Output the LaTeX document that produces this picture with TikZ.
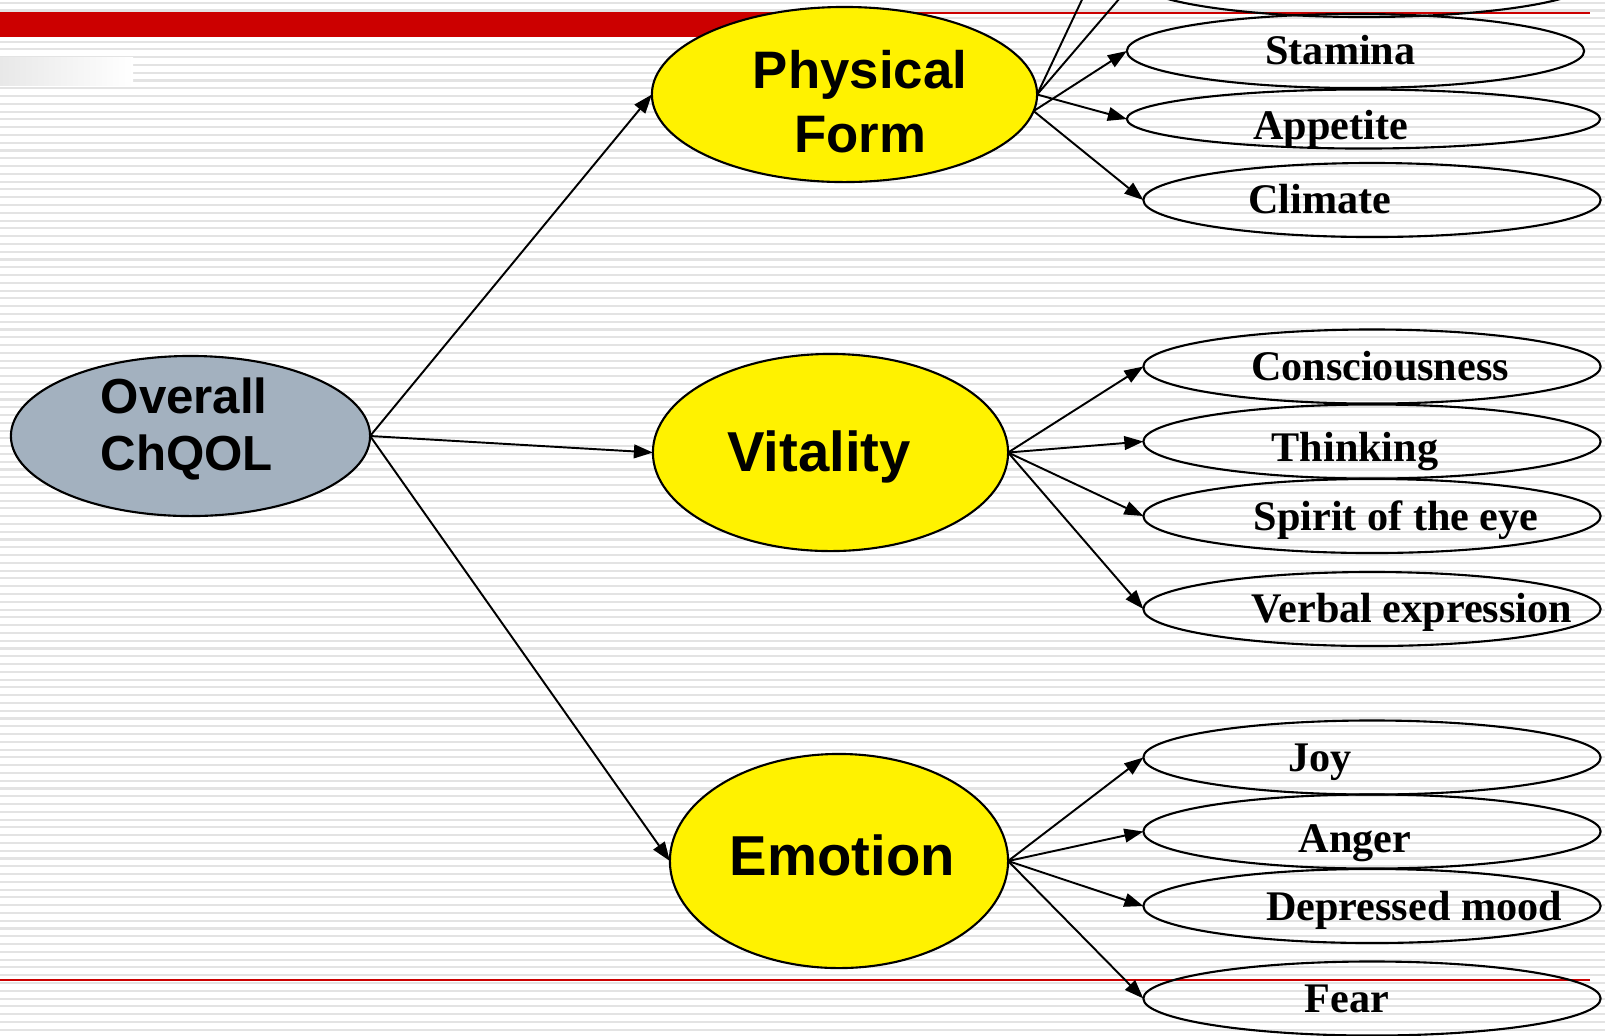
\documentclass[tikz,border=0pt]{standalone}
\usepackage{fontspec}
\setmainfont{Liberation Serif}
\setsansfont{Liberation Sans}
\usetikzlibrary{shapes.geometric,arrows.meta}
\definecolor{slidered}{RGB}{204,0,0}
\definecolor{chqolgray}{RGB}{163,177,191}

\begin{document}
\begin{tikzpicture}[x=0.01cm, y=-0.01cm,
  stripe/.style={gray!22, line width=0.6pt},
  main/.style={ellipse, draw, line width=0.6pt, inner sep=0pt, outer sep=0pt},
  sub/.style={ellipse, draw, line width=0.6pt, inner sep=0pt, outer sep=0pt, minimum width=4.57cm, minimum height=0.74cm},
  bigtxt/.style={font=\sffamily\bfseries\fontsize{16}{18}\selectfont, inner sep=0pt, anchor=base},
  subtxt/.style={font=\bfseries\fontsize{12}{14}\selectfont, inner sep=0pt, anchor=base},
  link/.style={-{Triangle[length=5.4pt,width=3.9pt]}, line width=0.55pt}]
\useasboundingbox (0,0) rectangle (1605,1035);
\clip (0,0) rectangle (1605,1035);
% slide background
\fill[white] (0,0) rectangle (1605,1035);
\foreach \k in {0,...,132}
  \draw[stripe] (0,{2.7+7.78*\k}) -- (1605,{2.7+7.78*\k});
\draw[slidered, line width=0.4pt] (0,13) -- (1590,13);
\fill[slidered] (0,12.3) rectangle (770,36.7);
\draw[slidered, line width=0.4pt] (0,980) -- (1590,980);
\shade[left color=gray!18, right color=white] (0,57) rectangle (133,85);

% main ellipses
\node[main, fill=chqolgray, minimum width=3.59cm, minimum height=1.6cm] (overall) at (190.5,436) {};
\node[main, fill=yellow, minimum width=3.85cm, minimum height=1.75cm] (physical) at (844.5,94.5) {};
\node[main, fill=yellow, minimum width=3.55cm, minimum height=1.97cm] (vitality) at (830.5,452.5) {};
\node[main, fill=yellow, minimum width=3.38cm, minimum height=2.14cm] (emotion) at (839,861) {};

\node[bigtxt, anchor=base west, align=left, font=\sffamily\bfseries\fontsize{14}{16.2}\selectfont] (overall-t) at ([shift={(-90.5,34)}]overall.center) {Overall\\ChQOL};
\node[bigtxt, align=center, font=\sffamily\bfseries\fontsize{15}{18.2}\selectfont] (physical-t) at ([shift={(15.5,57.5)}]physical.center) {Physical\\Form};
\node[bigtxt] (vitality-t) at ([shift={(-11.5,19)}]vitality.center) {Vitality};
\node[bigtxt] (emotion-t) at ([shift={(3.5,14)}]emotion.center) {Emotion};

% sub ellipses
\node[sub] (hiddenA) at (1355,-94) {};
\node[sub] (hiddenB) at (1364,-20) {};
\node[sub] (stamina) at (1355.5,51) {};
\node[sub, minimum width=4.73cm, minimum height=0.59cm] (appetite) at (1363.5,119) {};
\node[sub] (climate) at (1372,200) {};
\node[sub] (conscious) at (1372,366.5) {};
\node[sub] (thinking) at (1372,441.5) {};
\node[sub] (spirit) at (1372,516) {};
\node[sub] (verbal) at (1372,609) {};
\node[sub] (joy) at (1372,757.5) {};
\node[sub] (anger) at (1372,831.5) {};
\node[sub] (depressed) at (1372,906) {};
\node[sub] (fear) at (1372,998.5) {};

\node[subtxt] (stamina-t) at ([shift={(-15,13)}]stamina.center) {Stamina};
\node[subtxt] (appetite-t) at ([shift={(-33,20)}]appetite.center) {Appetite};
\node[subtxt] (climate-t) at ([shift={(-52,13)}]climate.center) {Climate};
\node[subtxt] (conscious-t) at ([shift={(8,14)}]conscious.center) {Consciousness};
\node[subtxt] (thinking-t) at ([shift={(-17,19.5)}]thinking.center) {Thinking};
\node[subtxt] (spirit-t) at ([shift={(24,14.5)}]spirit.center) {Spirit of the eye};
\node[subtxt] (verbal-t) at ([shift={(40,13.5)}]verbal.center) {Verbal expression};
\node[subtxt] (joy-t) at ([shift={(-52,14)}]joy.center) {Joy};
\node[subtxt] (anger-t) at ([shift={(-17,20.5)}]anger.center) {Anger};
\node[subtxt] (depressed-t) at ([shift={(42,14)}]depressed.center) {Depressed mood};
\node[subtxt] (fear-t) at ([shift={(-25,13.5)}]fear.center) {Fear};

% links
\draw[link] (overall.east) -- (physical.west);
\draw[link] (overall.east) -- (vitality.west);
\draw[link] (overall.east) -- (emotion.west);

\draw[link] (physical.east) -- (hiddenA.west);
\draw[link] (physical.east) -- (hiddenB.west);
\draw[link] (physical.-5) -- (stamina.west);
\draw[link] (physical.east) -- (appetite.west);
\draw[link] (physical.-5) -- (climate.west);

\draw[link] (vitality.east) -- (conscious.west);
\draw[link] (vitality.east) -- (thinking.west);
\draw[link] (vitality.east) -- (spirit.west);
\draw[link] (vitality.east) -- (verbal.west);

\draw[link] (emotion.east) -- (joy.west);
\draw[link] (emotion.east) -- (anger.west);
\draw[link] (emotion.east) -- (depressed.west);
\draw[link] (emotion.east) -- (fear.west);
\end{tikzpicture}
\end{document}
